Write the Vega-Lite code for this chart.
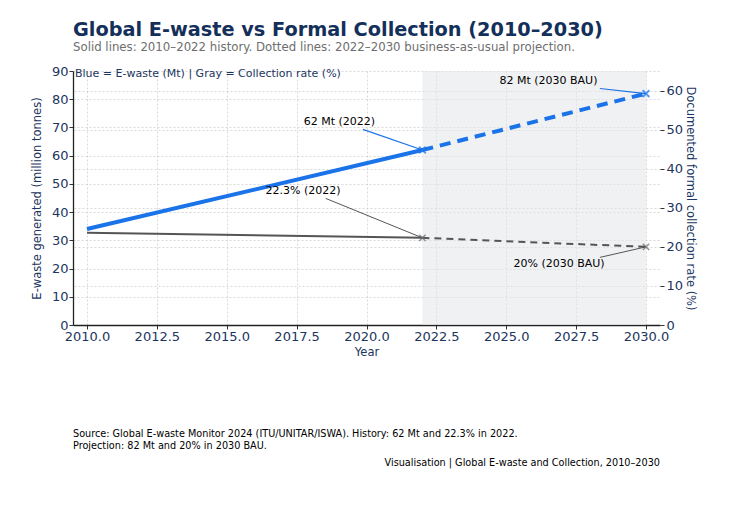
{
  "$schema": "https://vega.github.io/schema/vega-lite/v6.json",
  "padding": {"left": 31, "top": 21, "right": 5, "bottom": 5},
  "bounds": "flush",
  "spacing": 127,
  "title": {
    "text": "Global E-waste vs Formal Collection (2010–2030)",
    "subtitle": "Solid lines: 2010–2022 history. Dotted lines: 2022–2030 business-as-usual projection.",
    "anchor": "start",
    "frame": "group",
    "font": "DejaVu Sans",
    "fontSize": 19.3,
    "fontWeight": "bold",
    "color": "#14305a",
    "subtitleFont": "DejaVu Sans",
    "subtitleFontSize": 11.75,
    "subtitleColor": "#6e6e6e",
    "subtitlePadding": 1,
    "offset": 11.5
  },
  "datasets": {
    "ewaste": [
      {"year": 2010, "mt": 34, "phase": "History"},
      {"year": 2022, "mt": 62, "phase": "History"},
      {"year": 2022, "mt": 62, "phase": "Projection"},
      {"year": 2030, "mt": 82, "phase": "Projection"}
    ],
    "collection": [
      {"year": 2010, "rate": 23.6, "phase": "History"},
      {"year": 2022, "rate": 22.3, "phase": "History"},
      {"year": 2022, "rate": 22.3, "phase": "Projection"},
      {"year": 2030, "rate": 20, "phase": "Projection"}
    ],
    "periods": [
      {"period": "Projection", "start": 2022, "end": 2030}
    ],
    "annotations": [
      {"label": "62 Mt (2022)", "series": "ewaste", "tx": 2019.03, "ty": 72.1, "ax": 2019.87, "ay": 69.3, "px": 2022, "py": 62},
      {"label": "82 Mt (2030 BAU)", "series": "ewaste", "tx": 2026.51, "ty": 86.3, "ax": 2028.35, "ay": 83.8, "px": 2030, "py": 82},
      {"label": "22.3% (2022)", "series": "collection", "tx": 2017.73, "ty": 34.4, "ax": 2018.54, "ay": 32.4, "px": 2022, "py": 22.3},
      {"label": "20% (2030 BAU)", "series": "collection", "tx": 2026.89, "ty": 15.5, "ax": 2028.35, "ay": 17.3, "px": 2030, "py": 20}
    ]
  },
  "vconcat": [
    {
      "width": 587,
      "height": 254,
      "title": {
        "text": "Blue = E-waste (Mt) | Gray = Collection rate (%)",
        "anchor": "start",
        "frame": "group",
        "fontSize": 11,
        "fontWeight": "normal",
        "color": "#1c355e",
        "baseline": "middle",
        "offset": -20,
        "dx": 2
      },
      "layer": [
        {
          "layer": [
            {
              "data": {"name": "periods"},
              "mark": {"type": "rect", "color": "#e3e6ea", "opacity": 0.55},
              "encoding": {
                "x": {"field": "start", "type": "quantitative", "title": "Year", "scale": {"domain": [2009.5, 2030.5], "nice": false, "zero": false}},
                "x2": {"field": "end"}
              }
            },
            {
              "data": {"name": "ewaste"},
              "transform": [{"filter": "datum.phase === 'History'"}],
              "mark": {"type": "line", "color": "#1a73e8", "strokeWidth": 4},
              "encoding": {
                "x": {
                  "field": "year", "type": "quantitative", "title": "Year",
                  "scale": {"domain": [2009.5, 2030.5], "nice": false, "zero": false},
                  "axis": {
                    "values": [2010, 2012.5, 2015, 2017.5, 2020, 2022.5, 2025, 2027.5, 2030],
                    "format": ".1f", "labelPadding": 1, "titlePadding": 3, "tickSize": 4,
                    "grid": true, "domainColor": "#222222", "domainWidth": 1.3
                  }
                },
                "y": {
                  "field": "mt", "type": "quantitative", "title": "E-waste generated (million tonnes)",
                  "scale": {"domain": [0, 90], "nice": false},
                  "axis": {
                    "orient": "left",
                    "values": [0, 10, 20, 30, 40, 50, 60, 70, 80, 90],
                    "tickCount": 10,
                    "labelPadding": 1, "titlePadding": 9, "tickSize": 4,
                    "grid": true, "domainColor": "#222222", "domainWidth": 1.3
                  }
                }
              }
            },
            {
              "data": {"name": "ewaste"},
              "transform": [{"filter": "datum.phase === 'Projection'"}],
              "mark": {"type": "line", "color": "#1a73e8", "strokeWidth": 4, "strokeDash": [11, 7]},
              "encoding": {
                "x": {"field": "year", "type": "quantitative", "title": "Year"},
                "y": {
                  "field": "mt", "type": "quantitative", "title": "E-waste generated (million tonnes)",
                  "axis": {
                    "orient": "left",
                    "values": [0, 10, 20, 30, 40, 50, 60, 70, 80, 90],
                    "tickCount": 10,
                    "labelPadding": 1, "titlePadding": 9, "tickSize": 4,
                    "grid": true, "domainColor": "#222222", "domainWidth": 1.3
                  }
                }
              }
            },
            {
              "data": {"name": "annotations"},
              "transform": [{"filter": "datum.series === 'ewaste'"}],
              "mark": {"type": "rule", "color": "#1a73e8", "strokeWidth": 1.2},
              "encoding": {
                "x": {"field": "ax", "type": "quantitative", "title": "Year"},
                "y": {
                  "field": "ay", "type": "quantitative", "title": "E-waste generated (million tonnes)",
                  "axis": {
                    "orient": "left",
                    "values": [0, 10, 20, 30, 40, 50, 60, 70, 80, 90],
                    "tickCount": 10,
                    "labelPadding": 1, "titlePadding": 9, "tickSize": 4,
                    "grid": true, "domainColor": "#222222", "domainWidth": 1.3
                  }
                },
                "x2": {"field": "px"},
                "y2": {"field": "py"}
              }
            },
            {
              "data": {"name": "ewaste"},
              "transform": [{"filter": "datum.phase === 'Projection'"}],
              "mark": {"type": "point", "shape": "M-1,-1L1,1M1,-1L-1,1", "filled": false, "color": "#1a73e8", "strokeWidth": 2, "size": 45},
              "encoding": {
                "x": {"field": "year", "type": "quantitative", "title": "Year"},
                "y": {
                  "field": "mt", "type": "quantitative", "title": "E-waste generated (million tonnes)",
                  "axis": {
                    "orient": "left",
                    "values": [0, 10, 20, 30, 40, 50, 60, 70, 80, 90],
                    "tickCount": 10,
                    "labelPadding": 1, "titlePadding": 9, "tickSize": 4,
                    "grid": true, "domainColor": "#222222", "domainWidth": 1.3
                  }
                }
              }
            },
            {
              "data": {"name": "annotations"},
              "transform": [{"filter": "datum.series === 'ewaste'"}],
              "mark": {"type": "text", "font": "DejaVu Sans", "fontSize": 11, "color": "#000000", "align": "center", "baseline": "middle"},
              "encoding": {
                "x": {"field": "tx", "type": "quantitative", "title": "Year"},
                "y": {
                  "field": "ty", "type": "quantitative", "title": "E-waste generated (million tonnes)",
                  "axis": {
                    "orient": "left",
                    "values": [0, 10, 20, 30, 40, 50, 60, 70, 80, 90],
                    "tickCount": 10,
                    "labelPadding": 1, "titlePadding": 9, "tickSize": 4,
                    "grid": true, "domainColor": "#222222", "domainWidth": 1.3
                  }
                },
                "text": {"field": "label"}
              }
            }
          ]
        },
        {
          "layer": [
            {
              "data": {"name": "collection"},
              "transform": [{"filter": "datum.phase === 'History'"}],
              "mark": {"type": "line", "color": "#555555", "strokeWidth": 2},
              "encoding": {
                "x": {"field": "year", "type": "quantitative", "title": "Year"},
                "y": {
                  "field": "rate", "type": "quantitative", "title": "Documented formal collection rate (%)",
                  "scale": {"domain": [0, 65], "nice": false},
                  "axis": {
                    "orient": "right",
                    "values": [0, 10, 20, 30, 40, 50, 60],
                    "labelPadding": 2, "titlePadding": 2, "tickSize": 4,
                    "grid": true, "domain": false
                  }
                }
              }
            },
            {
              "data": {"name": "collection"},
              "transform": [{"filter": "datum.phase === 'Projection'"}],
              "mark": {"type": "line", "color": "#555555", "strokeWidth": 2, "strokeDash": [7, 5]},
              "encoding": {
                "x": {"field": "year", "type": "quantitative", "title": "Year"},
                "y": {"field": "rate", "type": "quantitative", "title": "Documented formal collection rate (%)"}
              }
            },
            {
              "data": {"name": "annotations"},
              "transform": [{"filter": "datum.series === 'collection'"}],
              "mark": {"type": "rule", "color": "#555555", "strokeWidth": 1},
              "encoding": {
                "x": {"field": "ax", "type": "quantitative", "title": "Year"},
                "y": {"field": "ay", "type": "quantitative", "title": "Documented formal collection rate (%)"},
                "x2": {"field": "px"},
                "y2": {"field": "py"}
              }
            },
            {
              "data": {"name": "collection"},
              "transform": [{"filter": "datum.phase === 'Projection'"}],
              "mark": {"type": "point", "shape": "M-1,-1L1,1M1,-1L-1,1", "filled": false, "color": "#666666", "strokeWidth": 1.5, "size": 40},
              "encoding": {
                "x": {"field": "year", "type": "quantitative", "title": "Year"},
                "y": {"field": "rate", "type": "quantitative", "title": "Documented formal collection rate (%)"}
              }
            },
            {
              "data": {"name": "annotations"},
              "transform": [{"filter": "datum.series === 'collection'"}],
              "mark": {"type": "text", "font": "DejaVu Sans", "fontSize": 11, "color": "#000000", "align": "center", "baseline": "middle"},
              "encoding": {
                "x": {"field": "tx", "type": "quantitative", "title": "Year"},
                "y": {"field": "ty", "type": "quantitative", "title": "Documented formal collection rate (%)"},
                "text": {"field": "label"}
              }
            }
          ]
        }
      ],
      "resolve": {"scale": {"y": "independent"}, "axis": {"y": "independent"}}
    },
    {
      "bounds": "flush",
      "spacing": 16,
      "vconcat": [
        {
          "width": 587,
          "height": 1,
          "data": {"values": []},
          "mark": "point",
          "title": {
            "text": ["Source: Global E-waste Monitor 2024 (ITU/UNITAR/ISWA). History: 62 Mt and 22.3% in 2022.", "Projection: 82 Mt and 20% in 2030 BAU."],
            "anchor": "start",
            "frame": "group",
            "fontSize": 9.7,
            "fontWeight": "normal",
            "color": "#000000",
            "lineHeight": 12,
            "offset": 1
          }
        },
        {
          "width": 587,
          "height": 1,
          "data": {"values": []},
          "mark": "point",
          "title": {
            "text": "Visualisation | Global E-waste and Collection, 2010–2030",
            "anchor": "end",
            "frame": "group",
            "fontSize": 9.7,
            "fontWeight": "normal",
            "color": "#000000",
            "offset": 1
          }
        }
      ]
    }
  ],
  "config": {
    "font": "DejaVu Sans",
    "view": {"stroke": null},
    "axis": {
      "labelFont": "DejaVu Sans",
      "labelFontSize": 13,
      "labelColor": "#1c355e",
      "titleFont": "DejaVu Sans",
      "titleFontSize": 11.5,
      "titleFontWeight": "normal",
      "titleColor": "#1c355e",
      "gridColor": "#cfcfcf",
      "gridDash": [2, 2],
      "gridWidth": 0.8,
      "tickColor": "#333333",
      "labelFlush": false,
      "labelOverlap": false
    }
  }
}
